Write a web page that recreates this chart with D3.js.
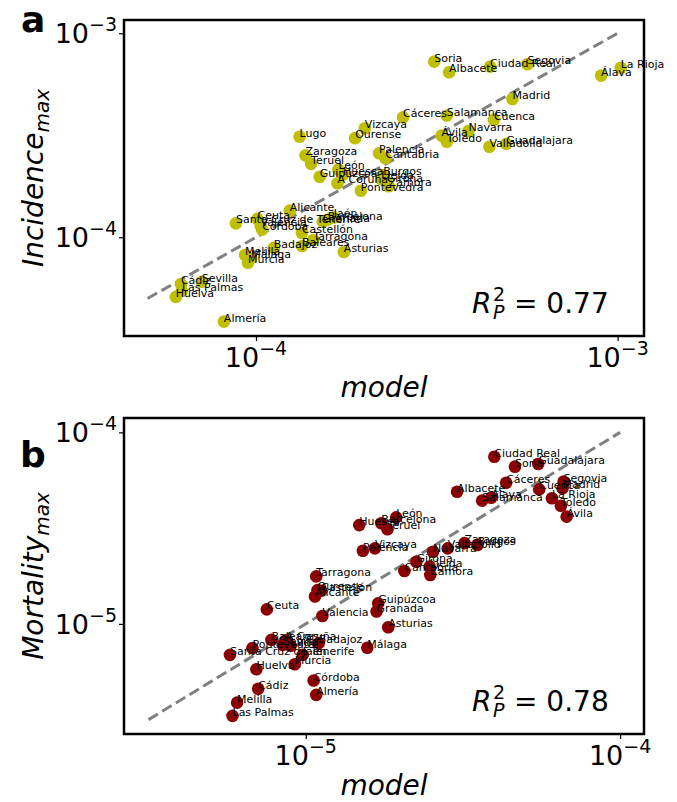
<!DOCTYPE html>
<html>
<head>
<meta charset="utf-8">
<script src="https://cdn.jsdelivr.net/npm/d3@7"></script>
<style>
  body { margin: 0; background: #fff; }
  svg { font-family: "DejaVu Sans", sans-serif; }
</style>
</head>
<body>
<script>
// panel a: incidence
var namesA = ["Soria","Albacete","Ciudad Real","Segovia","Álava","La Rioja","Madrid","Cáceres","Salamanca","Cuenca",
  "Ávila","Navarra","Toledo","Valladolid","Guadalajara","Palencia","Cantabria","Lugo","Ourense","Vizcaya",
  "Zaragoza","Teruel","Guipúzcoa","León","Huesca","A Coruña","Burgos","Lleida","Girona","Zamora",
  "Pontevedra","Alicante","Santa Cruz de Tenerife","Ceuta","Valencia","Córdoba","Jaén","Granada","Barcelona","Castellón",
  "Tarragona","Baleares","Badajoz","Asturias","Melilla","Málaga","Murcia","Cádiz","Sevilla","Las Palmas",
  "Huelva","Almería"];
var modelA = [3.11e-4,3.42e-4,4.44e-4,5.63e-4,9.0e-4,1.02e-3,5.12e-4,2.55e-4,3.37e-4,4.55e-4,
  3.26e-4,3.87e-4,3.37e-4,4.42e-4,4.92e-4,2.19e-4,2.28e-4,1.32e-4,1.88e-4,2.0e-4,
  1.37e-4,1.42e-4,1.50e-4,1.69e-4,1.74e-4,1.68e-4,2.25e-4,2.22e-4,2.30e-4,2.33e-4,
  1.95e-4,1.24e-4,0.88e-4,1.01e-4,1.03e-4,1.04e-4,1.64e-4,1.53e-4,1.58e-4,1.34e-4,
  1.44e-4,1.34e-4,1.12e-4,1.75e-4,0.933e-4,0.97e-4,0.95e-4,0.62e-4,0.708e-4,0.624e-4,
  0.60e-4,0.815e-4];
var incidenceA = [7.26e-4,6.44e-4,6.86e-4,7.05e-4,6.2e-4,6.78e-4,4.76e-4,3.87e-4,3.95e-4,3.76e-4,
  3.15e-4,3.32e-4,2.94e-4,2.78e-4,2.87e-4,2.58e-4,2.44e-4,3.11e-4,3.06e-4,3.42e-4,
  2.52e-4,2.29e-4,1.98e-4,2.15e-4,2.03e-4,1.84e-4,2.02e-4,1.93e-4,1.87e-4,1.78e-4,
  1.69e-4,1.35e-4,1.17e-4,1.23e-4,1.14e-4,1.09e-4,1.25e-4,1.19e-4,1.22e-4,1.05e-4,
  0.97e-4,0.906e-4,0.887e-4,0.847e-4,0.819e-4,0.792e-4,0.75e-4,0.59e-4,0.605e-4,0.545e-4,
  0.51e-4,0.386e-4];

// panel b: mortality
var namesB = ["Ciudad Real","Soria","Guadalajara","Cáceres","Cuenca","Segovia","Madrid","Albacete","Álava","Salamanca",
  "La Rioja","Toledo","Ávila","León","Barcelona","Teruel","Huesca","Palencia","Vizcaya","Navarra",
  "Valladolid","Zaragoza","Burgos","Girona","Cantabria","Lleida","Zamora","Tarragona","Ourense","Castellón",
  "Alicante","Ceuta","Valencia","Guipúzcoa","Granada","Asturias","Málaga","Baleares","A Coruña","Pontevedra",
  "Sevilla","Lugo","Badajoz","Santa Cruz de Tenerife","Jaén","Murcia","Huelva","Córdoba","Almería","Cádiz",
  "Melilla","Las Palmas"];
var modelB = [3.98e-5,4.63e-5,5.49e-5,4.34e-5,5.53e-5,6.61e-5,6.56e-5,3.03e-5,3.89e-5,3.64e-5,
  6.07e-5,6.48e-5,6.76e-5,1.94e-5,1.74e-5,1.82e-5,1.48e-5,1.52e-5,1.66e-5,2.54e-5,
  2.83e-5,3.20e-5,3.52e-5,2.25e-5,2.06e-5,2.48e-5,2.49e-5,1.08e-5,1.09e-5,1.12e-5,
  1.07e-5,0.752e-5,1.13e-5,1.70e-5,1.68e-5,1.83e-5,1.57e-5,0.778e-5,0.864e-5,0.677e-5,
  0.845e-5,0.896e-5,1.10e-5,0.574e-5,0.978e-5,0.923e-5,0.697e-5,1.06e-5,1.08e-5,0.706e-5,
  0.605e-5,0.585e-5];
var mortalityB = [7.46e-5,6.62e-5,6.84e-5,5.46e-5,5.04e-5,5.53e-5,5.10e-5,4.90e-5,4.56e-5,4.40e-5,
  4.53e-5,4.14e-5,3.63e-5,3.60e-5,3.35e-5,3.12e-5,3.28e-5,2.41e-5,2.48e-5,2.38e-5,
  2.48e-5,2.64e-5,2.58e-5,2.11e-5,1.89e-5,1.99e-5,1.80e-5,1.77e-5,1.50e-5,1.49e-5,
  1.39e-5,1.19e-5,1.10e-5,1.28e-5,1.16e-5,0.96e-5,0.75e-5,0.825e-5,0.82e-5,0.747e-5,
  0.777e-5,0.768e-5,0.793e-5,0.689e-5,0.689e-5,0.616e-5,0.580e-5,0.506e-5,0.426e-5,0.458e-5,
  0.388e-5,0.331e-5];

var W = 677, H = 802;
var svg = d3.select("body").append("svg").attr("width", W).attr("height", H);

function drawPanel(cfg) {
  var x = d3.scaleLog().domain(cfg.xdom).range([124, 644]);
  var y = d3.scaleLog().domain(cfg.ydom).range([cfg.bottom, cfg.top]);
  var g = svg.append("g");

  // diagonal y = x
  g.append("line")
    .attr("x1", x(cfg.diag[0])).attr("y1", y(cfg.diag[0]))
    .attr("x2", x(cfg.diag[1])).attr("y2", y(cfg.diag[1]))
    .style("stroke", "#808080").style("stroke-width", 3)
    .style("stroke-dasharray", "11,5");

  var pts = cfg.names.map(function(n, i) { return {name: n, m: cfg.model[i], v: cfg.obs[i]}; });

  g.selectAll(".dot").data(pts).enter().append("circle")
    .attr("cx", function(d) { return x(d.m); })
    .attr("cy", function(d) { return y(d.v); })
    .attr("r", 6.3)
    .style("fill", cfg.color);

  g.selectAll(".lab").data(pts).enter().append("text")
    .attr("x", function(d) { return x(d.m); })
    .attr("y", function(d) { return y(d.v); })
    .style("font-size", "11px")
    .text(function(d) { return d.name; });

  // frame
  g.append("rect")
    .attr("x", 124).attr("y", cfg.top)
    .attr("width", 520).attr("height", cfg.bottom - cfg.top)
    .style("fill", "none").style("stroke", "#000").style("stroke-width", 2.5);

  // ticks
  var xa = g.append("g").attr("transform", "translate(0," + cfg.bottom + ")")
    .call(d3.axisBottom(x).tickValues(cfg.ticks).tickSize(5).tickSizeOuter(0).tickFormat(""));
  var ya = g.append("g").attr("transform", "translate(124,0)")
    .call(d3.axisLeft(y).tickValues(cfg.ticks).tickSize(5).tickSizeOuter(0).tickFormat(""));
  [xa, ya].forEach(function(a) {
    a.select(".domain").remove();
    a.selectAll(".tick line").style("stroke-width", 1.2);
  });

  function expText(sel, v) {
    var e = Math.round(Math.log10(v));
    sel.append("tspan").text("10");
    sel.append("tspan").attr("dy", -12).style("font-size", "19px").text("\u2212" + Math.abs(e));
  }

  cfg.ticks.forEach(function(t) {
    var tx = g.append("text")
      .attr("x", x(t)).attr("y", cfg.bottom + 31)
      .attr("text-anchor", "middle").style("font-size", "27px");
    expText(tx, t);
    var ty = g.append("text")
      .attr("x", 117).attr("y", y(t) + 10)
      .attr("text-anchor", "end").style("font-size", "27px");
    expText(ty, t);
  });

  // axis titles
  g.append("text")
    .attr("x", 384).attr("y", cfg.bottom + 61)
    .attr("text-anchor", "middle")
    .style("font-size", "28px").style("font-style", "italic")
    .text("model");

  var yl = g.append("text")
    .attr("transform", "translate(43," + ((cfg.top + cfg.bottom) / 2) + ") rotate(-90)")
    .attr("text-anchor", "middle")
    .style("font-size", "28px").style("font-style", "italic");
  yl.append("tspan").text(cfg.ylabel);
  yl.append("tspan").attr("dy", 6).style("font-size", "20px").text("max");

  // R^2 annotation
  var rx = 472, ry = cfg.bottom - 23;
  g.append("text").attr("x", rx).attr("y", ry)
    .style("font-size", "28px").style("font-style", "italic").text("R");
  g.append("text").attr("x", rx + 21).attr("y", ry - 12)
    .style("font-size", "19px").text("2");
  g.append("text").attr("x", rx + 21).attr("y", ry + 6)
    .style("font-size", "19px").style("font-style", "italic").text("P");
  g.append("text").attr("x", rx + 42).attr("y", ry)
    .style("font-size", "28px").text("= " + cfg.r2);

  // panel letter
  g.append("text").attr("x", cfg.letterX).attr("y", cfg.letterY)
    .style("font-size", "36px").style("font-weight", "bold").text(cfg.letter);
}

drawPanel({
  names: namesA, model: modelA, obs: incidenceA,
  xdom: [Math.pow(10, -4.365), Math.pow(10, -2.927)],
  ydom: [Math.pow(10, -4.484), Math.pow(10, -2.935)],
  top: 20, bottom: 336, ticks: [1e-4, 1e-3], diag: [Math.pow(10, -4.3), 1e-3],
  color: "#bfbf00", ylabel: "Incidence", r2: "0.77",
  letter: "a", letterX: 21, letterY: 32
});

drawPanel({
  names: namesB, model: modelB, obs: mortalityB,
  xdom: [Math.pow(10, -5.578), Math.pow(10, -3.924)],
  ydom: [Math.pow(10, -5.575), Math.pow(10, -3.925)],
  top: 418, bottom: 734, ticks: [1e-5, 1e-4], diag: [Math.pow(10, -5.5), 1e-4],
  color: "#8b0000", ylabel: "Mortality", r2: "0.78",
  letter: "b", letterX: 20, letterY: 467
});
</script>
</body>
</html>
